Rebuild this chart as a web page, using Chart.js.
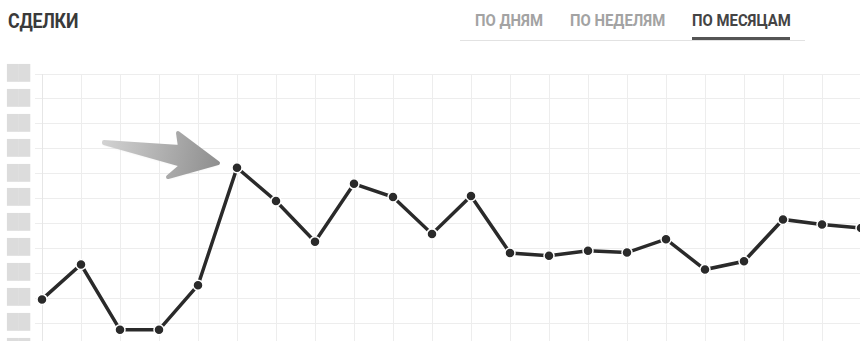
<!DOCTYPE html>
<html><head><meta charset="utf-8">
<script src="https://cdn.jsdelivr.net/npm/chart.js@4"></script>
<style>
html,body{margin:0;padding:0;background:#fff;width:860px;height:341px;overflow:hidden;}
#wrap{position:relative;width:860px;height:341px;overflow:hidden;}
#c{position:absolute;left:0;top:0;}
.title{position:absolute;left:8px;top:9px;font-family:Roboto,"Open Sans",sans-serif;font-weight:700;font-size:21px;color:#3a3a3a;transform:scaleX(0.85);transform-origin:left top;letter-spacing:-0.3px;}
.tabs{position:absolute;left:460px;top:0;width:345px;height:40px;border-bottom:1px solid #e2e2e2;}
.tab{position:absolute;top:11px;font-family:Roboto,"Open Sans",sans-serif;font-weight:700;font-size:16px;color:#a3a3a3;transform:scaleX(0.93);transform-origin:left top;white-space:nowrap;}
.tab.active{color:#444;}
.bar{position:absolute;left:232px;top:37px;width:98px;height:3px;background:#555;}
</style></head>
<body><div id="wrap">
<div class="title">СДЕЛКИ</div>
<div class="tabs">
  <div class="tab" style="left:15px">ПО ДНЯМ</div>
  <div class="tab" style="left:110px">ПО НЕДЕЛЯМ</div>
  <div class="tab active" style="left:232px">ПО МЕСЯЦАМ</div>
  <div class="bar"></div>
</div>
<canvas id="c" width="870" height="362"></canvas>
</div>
<script>
// Months (categories) – labels are not shown in the picture
const months = ['1','2','3','4','5','6','7','8','9','10','11','12','13','14','15','16','17','18','19','20','21','22'];
// Deals per month (arbitrary units; y-axis labels are obscured)
const deals = [19.5, 33.5, 7.3, 7.3, 25.2, 72.4, 59.0, 42.7, 65.9, 60.6, 45.8, 61.0, 38.1, 37.0, 39.0, 38.3, 43.7, 31.5, 34.8, 51.6, 49.6, 48.2];
// Y-axis range and step (tick labels are pixelated in the source)
const yMin = 0, yMax = 110, yStep = 10;
const yTickLabel = '\u2588\u2588';

const arrowPlugin = {
  id: 'arrow',
  afterDraw(chart) {
    const ctx = chart.ctx;
    ctx.save();
    const g = ctx.createLinearGradient(103, 142, 220, 163);
    g.addColorStop(0, '#d2d2d2');
    g.addColorStop(1, '#8e8e8e');
    ctx.beginPath();
    ctx.moveTo(104, 142);
    ctx.lineTo(180, 147);
    ctx.lineTo(178, 133);
    ctx.lineTo(218, 163);
    ctx.lineTo(168, 177);
    ctx.lineTo(182, 165);
    ctx.lineTo(104, 143);
    ctx.closePath();
    ctx.shadowColor = 'rgba(0,0,0,0.18)';
    ctx.shadowBlur = 3;
    ctx.shadowOffsetY = 1;
    ctx.fillStyle = g;
    ctx.fill();
    ctx.shadowColor = 'transparent';
    ctx.lineJoin = 'round';
    ctx.lineWidth = 4;
    ctx.strokeStyle = g;
    ctx.stroke();
    ctx.restore();
  }
};

new Chart(document.getElementById('c'), {
  type: 'line',
  data: {
    labels: months,
    datasets: [{
      data: deals,
      borderColor: '#2a2a2a',
      borderWidth: 3.5,
      pointRadius: 5,
      pointBackgroundColor: '#2a2a2a',
      pointBorderColor: '#ffffff',
      pointBorderWidth: 1.5,
      tension: 0,
      clip: false
    }]
  },
  options: {
    responsive: false,
    animation: false,
    layout: { padding: { top: 74, right: 9, bottom: 11, left: 0 } },
    plugins: { legend: { display: false }, tooltip: { enabled: false } },
    scales: {
      x: {
        type: 'category',
        offset: false,
        grid: { color: '#ededed', lineWidth: 1, drawTicks: false },
        border: { display: false },
        ticks: { display: false },
        afterFit(s) { s.height = 0; }
      },
      y: {
        min: yMin, max: yMax,
        grid: { color: '#ededed', lineWidth: 1, tickLength: 7 },
        border: { color: '#e6e6e6' },
        ticks: {
          stepSize: yStep,
          padding: 5,
          color: '#dcdcdc',
          font: { family: 'DejaVu Sans', size: 15 },
          callback: () => yTickLabel
        },
        afterFit(s) { s.width = 42; }
      }
    }
  },
  plugins: [arrowPlugin]
});
</script>
</body></html>
